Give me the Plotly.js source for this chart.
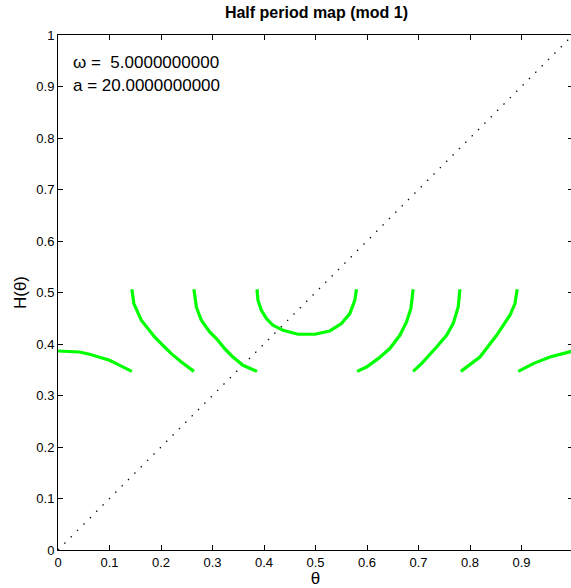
<!DOCTYPE html>
<html>
<head>
<meta charset="utf-8">
<script src="https://cdn.plot.ly/plotly-3.0.1.min.js"></script>
<style>
html,body{margin:0;padding:0;overflow:hidden;background:#fff;}
#chart{width:574px;height:588px;}
</style>
</head>
<body>
<div id="chart"></div>
<script>
// Branch curves of the half period map H(theta)
var theta1 = [0, 0.0224, 0.0418, 0.0612, 0.0807, 0.1001, 0.1131, 0.1293, 0.1434];
var h1     = [0.3864, 0.3858, 0.3845, 0.3800, 0.3747, 0.3683, 0.3619, 0.3537, 0.3469];
var theta2 = [0.1434, 0.1473, 0.1617, 0.1745, 0.1876, 0.2037, 0.2200, 0.2395, 0.2639];
var h2     = [0.5063, 0.4785, 0.4461, 0.4299, 0.4136, 0.3975, 0.3813, 0.3650, 0.3469];
var theta3 = [0.2639, 0.2686, 0.2783, 0.2945, 0.3075, 0.3236, 0.3397, 0.3592, 0.3864];
var h3     = [0.5063, 0.4719, 0.4461, 0.4233, 0.4105, 0.3911, 0.3747, 0.3586, 0.3469];
var theta4 = [0.3864, 0.3883, 0.3949, 0.4047, 0.4175, 0.4369, 0.4661, 0.4985, 0.5277, 0.5504, 0.5666, 0.5763, 0.5796];
var h4     = [0.5063, 0.4849, 0.4655, 0.4494, 0.4363, 0.4266, 0.4189, 0.4189, 0.4253, 0.4397, 0.4591, 0.4849, 0.5063];
var theta5 = [0.5808, 0.5990, 0.6216, 0.6443, 0.6638, 0.6768, 0.6851, 0.6896];
var h5     = [0.3469, 0.3553, 0.3716, 0.3911, 0.4169, 0.4428, 0.4688, 0.5063];
var theta6 = [0.6896, 0.7059, 0.7351, 0.7545, 0.7673, 0.7771, 0.7804];
var h6     = [0.3469, 0.3619, 0.3942, 0.4169, 0.4396, 0.4719, 0.5063];
var theta7 = [0.7823, 0.8192, 0.8517, 0.8776, 0.8873, 0.8917];
var h7     = [0.3469, 0.3747, 0.4169, 0.4558, 0.4785, 0.5063];
var theta8 = [0.8937, 0.9228, 0.9553, 0.9942, 1.0];
var h8     = [0.3469, 0.3619, 0.3747, 0.3845, 0.3864];

var diagX = [0, 1];
var diagY = [0, 1];

var tickVals = [0, 0.1, 0.2, 0.3, 0.4, 0.5, 0.6, 0.7, 0.8, 0.9, 1];
var tickText = ['0', '0.1', '0.2', '0.3', '0.4', '0.5', '0.6', '0.7', '0.8', '0.9', '1'];

var omegaText = '\u03c9 = \u00a05.0000000000';
var aText = 'a = 20.0000000000';

var green = '#00ff00';
var curves = [[theta1,h1],[theta2,h2],[theta3,h3],[theta4,h4],[theta5,h5],[theta6,h6],[theta7,h7],[theta8,h8]];
var traces = [{
  x: diagX, y: diagY, mode: 'lines', type: 'scatter',
  line: {color: '#111', width: 1.3, dash: '1.5px,7.5px'}, hoverinfo: 'skip'
}];
curves.forEach(function(c){
  traces.push({x: c[0], y: c[1], mode: 'lines', type: 'scatter',
    line: {color: green, width: 3.2}});
});

var fontFam = 'Liberation Sans, Arial, Helvetica, sans-serif';
var axisCommon = {
  range: [0, 1], tickmode: 'array', tickvals: tickVals, ticktext: tickText,
  ticks: 'inside', ticklen: 5, tickwidth: 1, tickcolor: '#000',
  showline: true, linecolor: '#000', linewidth: 1, mirror: 'ticks',
  showgrid: false, zeroline: false,
  tickfont: {family: fontFam, size: 13, color: '#000'}
};

var layout = {
  width: 574, height: 588,
  margin: {l: 58, r: 1, t: 35, b: 38},
  paper_bgcolor: '#fff', plot_bgcolor: '#fff',
  showlegend: false,
  title: {text: '<b>Half period map (mod 1)</b>', font: {family: fontFam, size: 16, color: '#000'},
          x: 0.5513, xanchor: 'center', y: 0.979, yanchor: 'middle'},
  xaxis: Object.assign({}, axisCommon, {
    ticklabelstandoff: 0,
    title: {text: '\u03b8', font: {family: fontFam, size: 17, color: '#000'}, standoff: 3}
  }),
  yaxis: Object.assign({}, axisCommon, {
    title: {text: 'H(\u03b8)', font: {family: fontFam, size: 17, color: '#000'}, standoff: 5}
  }),
  annotations: [
    {x: 0.026, y: 0.9475, xref: 'x', yref: 'y', text: omegaText, showarrow: false,
     xanchor: 'left', yanchor: 'middle', font: {family: fontFam, size: 17, color: '#000'}},
    {x: 0.026, y: 0.901, xref: 'x', yref: 'y', text: aText, showarrow: false,
     xanchor: 'left', yanchor: 'middle', font: {family: fontFam, size: 17, color: '#000'}}
  ]
};

Plotly.newPlot('chart', traces, layout, {displayModeBar: false, staticPlot: true});
</script>
</body>
</html>
